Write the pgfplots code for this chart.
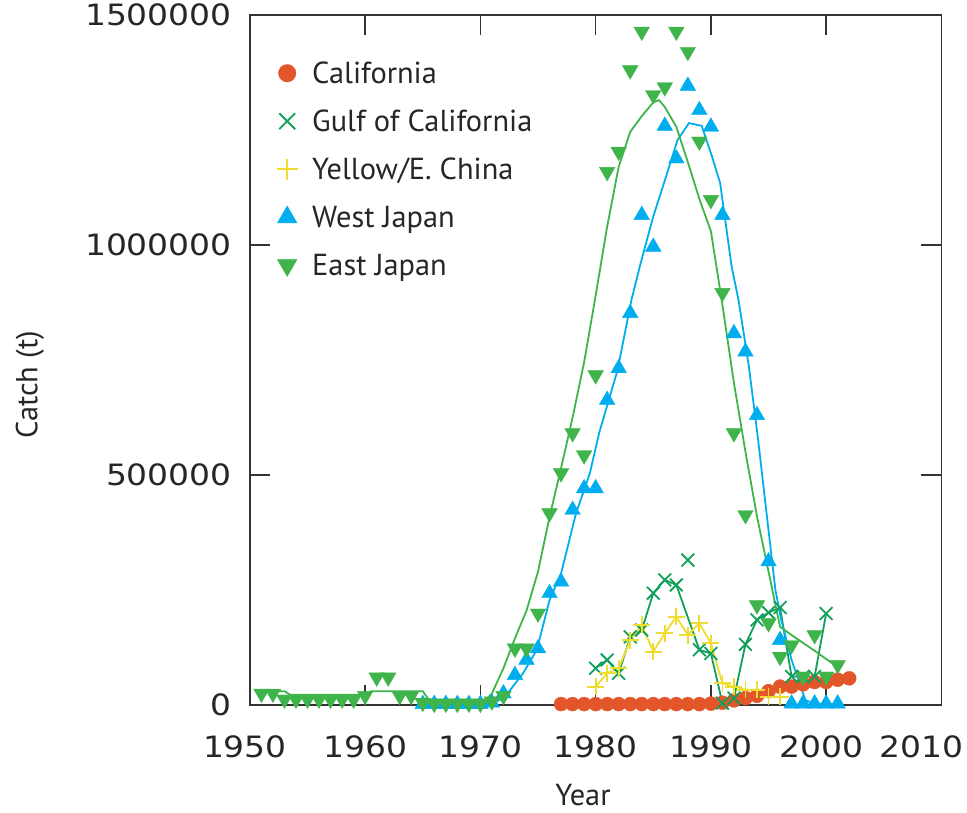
\documentclass[border=0pt]{standalone}
\usepackage{fontspec}
\setmainfont{PT Sans}
\newfontfamily\tickfont[FakeStretch=1.12]{DejaVu Sans}
\usepackage{pgfplots}
\pgfplotsset{compat=1.18}
\definecolor{cal}{HTML}{E2562A}
\definecolor{gulf}{HTML}{10A05A}
\definecolor{yel}{HTML}{EEDC30}
\definecolor{wj}{HTML}{00AEEF}
\definecolor{ej}{HTML}{3EB44A}
\begin{document}
\begin{tikzpicture}
\useasboundingbox (-249.9bp,-108bp) rectangle (717.1bp,705bp);
\begin{axis}[
  at={(0bp,0bp)}, anchor=south west,
  scale only axis, width=691.5bp, height=690bp,
  xmin=1950, xmax=2010, ymin=0, ymax=1.5,
  xtick={1950,1960,1970,1980,1990,2000,2010},
  xticklabels={\hspace*{-10bp}1950,1960,1970,1980,1990,\hspace*{-10bp}2000,\hspace*{-40bp}2010},
  ytick={0,0.5,1,1.5}, yticklabels={0,500000,1000000,1500000},
  tick align=inside, major tick length=20bp,
  tick style={line width=1.6bp, color=black!80},
  axis line style={line width=1.6bp, color=black!80},
  xticklabel style={font=\fontsize{29.5}{29.5}\tickfont, inner sep=0pt, anchor=north, yshift=-30bp, text=black!85},
  yticklabel style={font=\fontsize{29.5}{29.5}\tickfont, inner sep=0pt, anchor=east, xshift=-18bp, text=black!85},
  xlabel={Year}, ylabel={Catch (t)},
  xlabel style={at={(axis description cs:0.4817,-0.131)}, anchor=center, font=\fontsize{30.5}{30.5}\selectfont, text=black!85},
  ylabel style={at={(axis description cs:-0.318,0.464)}, anchor=center, font=\fontsize{30.5}{30.5}\selectfont, text=black!85},
  legend image code/.code={\path[draw=none,fill=none] (-12bp,-24bp) rectangle (12bp,24bp); \draw[#1,only marks,every mark/.append style={scale=1.25}] plot coordinates {(0bp,0bp)};},
  legend style={at={(axis description cs:0.0363,0.9507)}, anchor=north west, draw=none, fill=none, inner sep=0pt, row sep=0pt, column sep=13bp, font=\fontsize{30.5}{30.5}\selectfont, nodes={inner sep=0pt, text=black!85}},
  legend cell align=left,
  clip=false,
]
% smooth lines (no legend)
\addplot[forget plot, color=gulf, line width=1.8bp] coordinates {
(1980,0.080)(1981,0.098)(1982,0.069)(1983,0.148)(1984,0.163)(1985,0.243)(1986,0.272)(1987,0.261)(1989,0.120)(1990,0.112)(1991,0.004)(1992,0.015)(1993,0.132)(1994,0.185)(1995,0.201)(1996,0.212)(1997,0.062)(1998,0.062)(1999,0.062)(2000,0.199)};
\addplot[forget plot, color=wj, line width=1.8bp] coordinates {
(1965,0.002)(1971,0.004)(1972,0.015)(1972.6,0.033)(1973.7,0.069)(1974.9,0.12)(1976,0.228)(1977,0.286)(1978.3,0.417)(1979.5,0.504)(1980.3,0.591)(1981.9,0.728)(1983.1,0.880)(1983.9,0.960)(1985,1.062)(1986.1,1.148)(1987.1,1.228)(1988.1,1.265)(1989.2,1.259)(1990.1,1.192)(1990.8,1.135)(1991.8,0.953)(1992.4,0.88)(1993.3,0.735)(1994.1,0.576)(1995,0.38)(1995.6,0.25)(1996.1,0.185)(1997,0.098)(1998.2,0.011)(1999,0.002)(2001,0.002)};
\addplot[forget plot, color=ej, line width=1.8bp] coordinates {
(1951,0.03)(1953,0.03)(1953.5,0.022)(1960,0.022)(1960.5,0.03)(1965,0.03)(1965.5,0.012)(1970.5,0.012)(1971,0.025)(1972,0.08)(1973,0.145)(1974,0.205)(1975,0.29)(1976,0.409)(1977,0.515)(1978,0.625)(1979,0.745)(1980,0.89)(1981,1.04)(1982,1.17)(1983,1.246)(1984,1.28)(1985,1.31)(1985.5,1.315)(1986,1.3)(1987,1.257)(1988,1.18)(1989,1.1)(1990,1.03)(1991,0.87)(1992,0.70)(1993,0.55)(1994,0.41)(1995,0.29)(1996,0.17)(1997,0.152)(1998,0.135)(1999,0.118)(2000,0.1)(2001,0.083)};
% markers
\addplot[only marks, mark=*, mark size=7bp, color=cal] coordinates {
(1977,0.002)(1978,0.002)(1979,0.002)(1980,0.002)(1981,0.002)(1982,0.002)(1983,0.002)(1984,0.002)(1985,0.002)(1986,0.002)(1987,0.002)(1988,0.002)(1989,0.002)(1990,0.003)(1991,0.005)(1992,0.01)(1993,0.015)(1994,0.02)(1995,0.03)(1996,0.04)(1997,0.04)(1998,0.045)(1999,0.05)(2000,0.05)(2001,0.055)(2002,0.058)};
\addlegendentry{California}
\addplot[only marks, mark=x, mark size=9bp, color=gulf, mark options={line width=1.8bp}] coordinates {
(1980,0.080)(1981,0.098)(1982,0.069)(1983,0.148)(1984,0.163)(1985,0.243)(1986,0.272)(1987,0.261)(1988,0.315)(1989,0.120)(1990,0.112)(1991,0.004)(1992,0.015)(1993,0.132)(1994,0.185)(1995,0.201)(1996,0.212)(1997,0.062)(1998,0.062)(1999,0.062)(2000,0.199)};
\addlegendentry{Gulf of California}
\addplot[color=yel, line width=1.8bp, mark=+, mark size=8.5bp, mark options={line width=1.8bp}] coordinates {
(1980,0.040)(1981,0.069)(1982,0.080)(1983,0.141)(1984,0.174)(1985,0.116)(1986,0.156)(1987,0.192)(1988,0.152)(1989,0.178)(1990,0.134)(1991,0.047)(1992,0.040)(1993,0.033)(1994,0.033)(1995,0.018)(1996,0.018)};
\addlegendentry{Yellow/E. China}
\addplot[only marks, mark=triangle*, mark size=9bp, color=wj] coordinates {
(1965,0.002)(1966,0.002)(1967,0.002)(1968,0.002)(1969,0.002)(1970,0.002)(1971,0.005)(1972,0.025)(1973,0.065)(1974,0.098)(1975,0.123)(1976,0.243)(1977,0.268)(1978,0.424)(1979,0.471)(1980,0.471)(1981,0.663)(1982,0.732)(1983,0.852)(1984,1.065)(1985,0.996)(1986,1.259)(1987,1.188)(1988,1.346)(1989,1.293)(1990,1.257)(1991,1.065)(1992,0.808)(1993,0.768)(1994,0.63)(1995,0.312)(1996,0.141)(1997,0.003)(1998,0.003)(1999,0.003)(2000,0.003)(2001,0.003)};
\addlegendentry{West Japan}
\addplot[only marks, mark=triangle*, mark size=9bp, mark options={rotate=180}, color=ej] coordinates {
(1951,0.025)(1952,0.025)(1953,0.012)(1954,0.012)(1955,0.012)(1956,0.012)(1957,0.012)(1958,0.012)(1959,0.012)(1960,0.02)(1961,0.06)(1962,0.06)(1963,0.02)(1964,0.02)(1965,0.005)(1966,0.003)(1967,0.003)(1968,0.003)(1969,0.003)(1970,0.003)(1971,0.008)(1972,0.02)(1973,0.123)(1974,0.123)(1975,0.199)(1976,0.417)(1977,0.504)(1978,0.591)(1979,0.543)(1980,0.717)(1981,1.159)(1982,1.203)(1983,1.38)(1984,1.464)(1985,1.326)(1986,1.343)(1987,1.464)(1988,1.42)(1989,1.225)(1990,1.098)(1991,0.896)(1992,0.591)(1993,0.413)(1994,0.217)(1995,0.178)(1996,0.105)(1997,0.13)(1998,0.062)(1999,0.152)(2000,0.062)(2001,0.087)};
\addlegendentry{East Japan}
\end{axis}
\end{tikzpicture}
\end{document}
